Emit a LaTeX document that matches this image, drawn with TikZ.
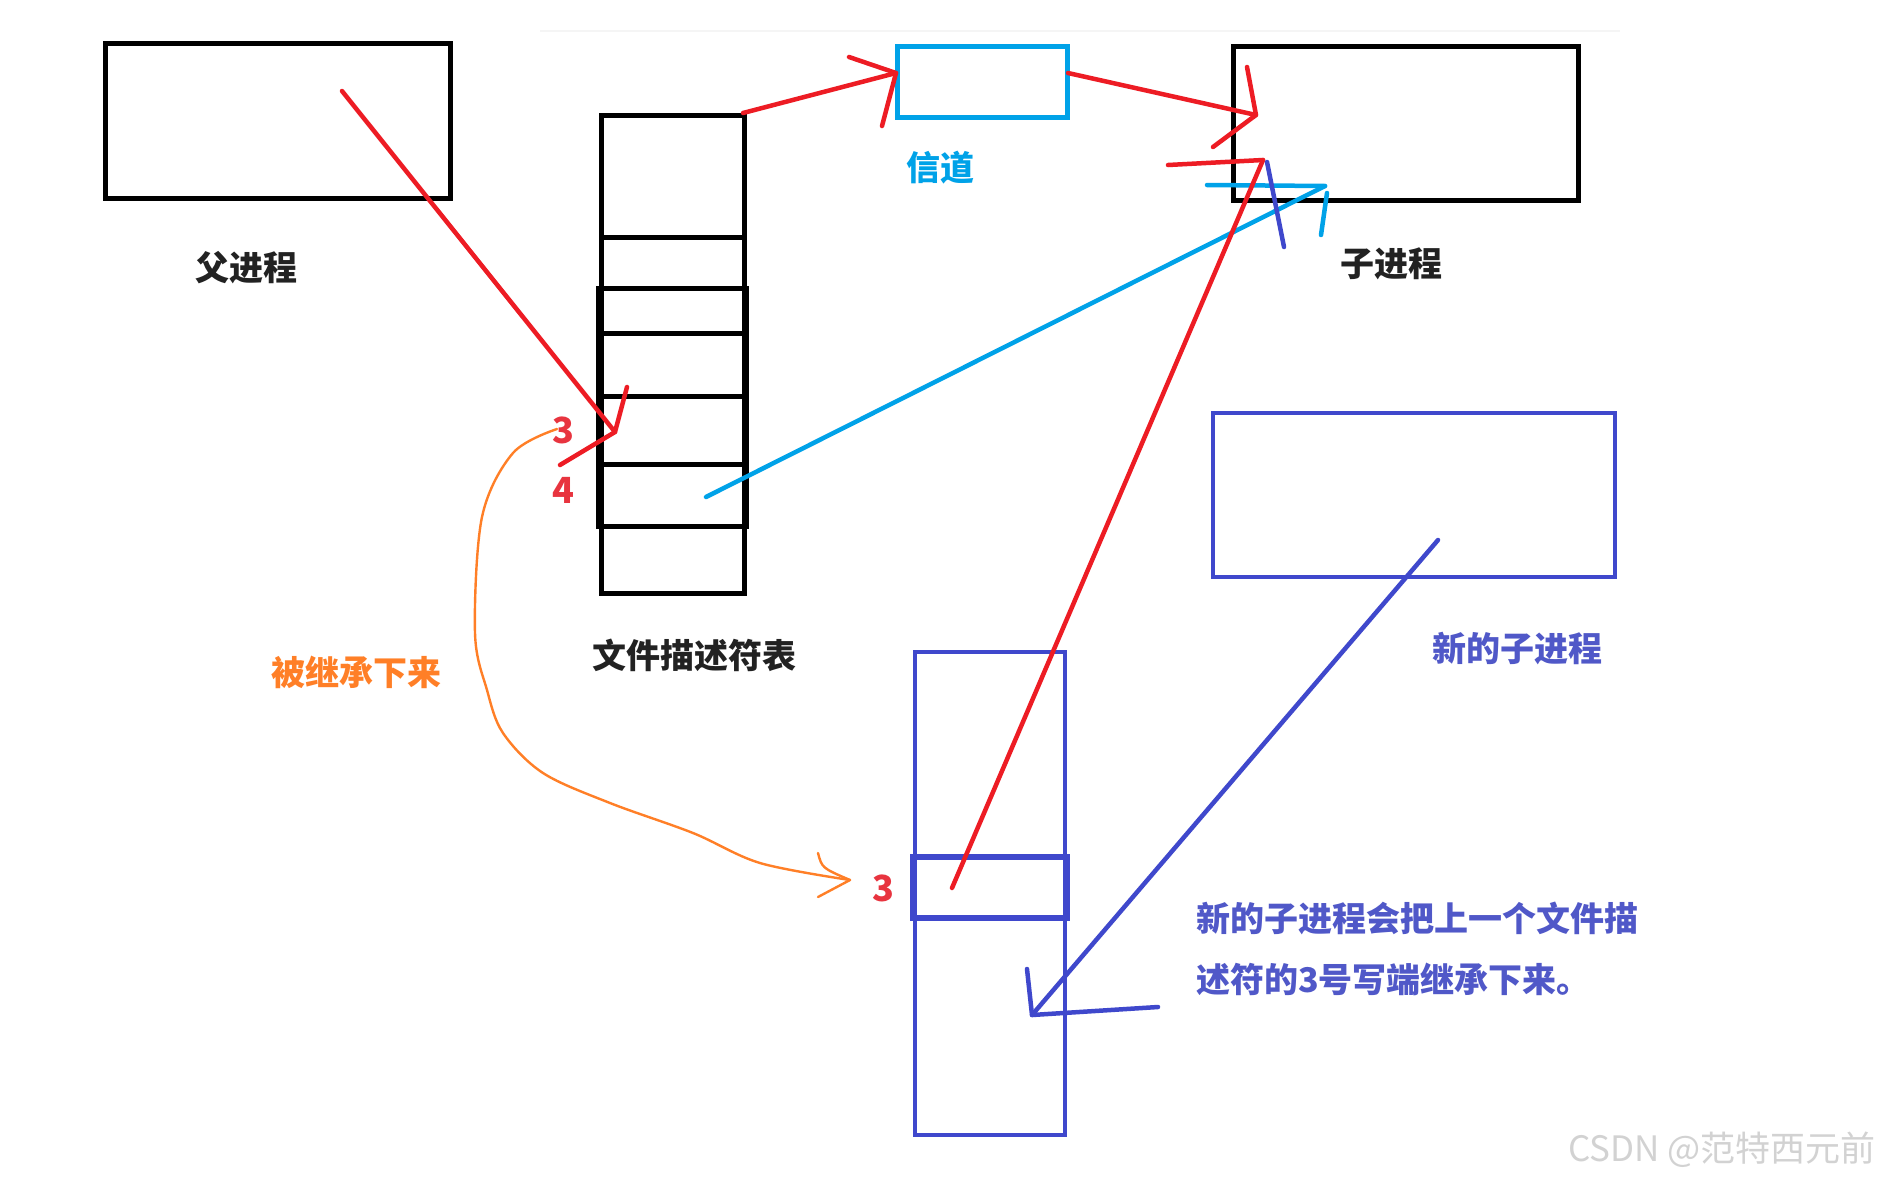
\documentclass[tikz,border=0pt]{standalone}
\usepackage{fontspec}
\newfontfamily\cjk{Noto Sans CJK SC}
\definecolor{pred}{HTML}{ED1C24}
\definecolor{pcyan}{HTML}{00A2E8}
\definecolor{pindigo}{HTML}{3F48CC}
\definecolor{porange}{HTML}{FF7F27}
\definecolor{tred}{HTML}{E8343F}
\definecolor{tindigo}{HTML}{5058C8}
\definecolor{tdark}{HTML}{222222}
\tikzset{
  pen/.style={line width=4.5, line cap=round, line join=round},
  redpen/.style={pen, draw=pred},
  cyanpen/.style={pen, draw=pcyan},
  indigopen/.style={pen, draw=pindigo},
  orangepen/.style={line width=2.4, line cap=round, line join=round, draw=porange},
  boxk/.style={draw=black, line width=5, inner sep=0, rectangle},
  boxc/.style={draw=pcyan, line width=5, inner sep=0, rectangle},
  boxi/.style={draw=pindigo, line width=4.5, inner sep=0, rectangle},
  lbl/.style={font=\cjk\bfseries\fontsize{34}{40}\selectfont, inner sep=0},
  num/.style={font=\cjk\bfseries\fontsize{36}{40}\selectfont, text=tred, inner sep=0},
}
\begin{document}
\begin{tikzpicture}[x=1pt, y=-1pt]
\useasboundingbox (0,0) rectangle (1887,1187);
\fill[white] (0,0) rectangle (1887,1187);
\draw[gray!8, line width=2] (540,31) -- (1620,31);

% boxes
\node[boxk, minimum width=345, minimum height=155] (parent) at (277.5,120.5) {};
\node[boxc, minimum width=170, minimum height=71] (chan) at (982,81.5) {};
\node[boxk, minimum width=345, minimum height=154] (child) at (1405.5,123) {};
\node[boxi, minimum width=402, minimum height=164] (newchild) at (1414,495) {};

% fd table
\node[boxk, minimum width=143, minimum height=478] (fdt) at (672.5,354) {};
\node[boxk, minimum width=148, minimum height=238] (fdmid) at (672.5,407) {};
\foreach \yy in {237,288,333,396,464,526}
  \draw[line width=5] (601,\yy) -- (744,\yy);

% new fd table
\node[boxi, minimum width=150, minimum height=483] (nfdt) at (990,893.5) {};
\node[boxi, line width=5.5, minimum width=154, minimum height=61] (nslot) at (990,887.5) {};

% labels
\node[lbl, text=tdark] (lparent) at (246,268) {父进程};
\node[lbl, text=pcyan] (lchan) at (940,168) {信道};
\node[lbl, text=tdark] (lchild) at (1391,264) {子进程};
\node[lbl, text=tdark] (lfdt) at (694,655) {文件描述符表};
\node[lbl, text=porange] (linh) at (356,672) {被继承下来};
\node[lbl, text=tindigo] (lnew) at (1517,649) {新的子进程};
\node[lbl, text=tindigo, anchor=west] (note1) at (1196,918) {新的子进程会把上一个文件描};
\node[lbl, text=tindigo, anchor=west] (note2) at (1196,979) {述符的3号写端继承下来。};
\node[num] (n3) at (563,430) {3};
\node[num] (n4) at (563,490) {4};
\node[num] (n3b) at (883,888) {3};
\node[font=\cjk\fontsize{35}{40}\selectfont, text=gray!35, inner sep=0] (wm) at (1722,1150) {CSDN @范特西元前};

% coordinates for hand-drawn arrows
\coordinate (p1s) at (342,91);   \coordinate (t1) at (615,432);
\coordinate (b1a) at (627,387);  \coordinate (b1b) at (560,465);
\coordinate (p2s) at (743,113);  \coordinate (t2) at (896,73);
\coordinate (b2a) at (849,57);   \coordinate (b2b) at (882,126);
\coordinate (p3s) at (1068,73);  \coordinate (t3) at (1256,115);
\coordinate (b3a) at (1247,67);  \coordinate (b3b) at (1213,147);
\coordinate (p4s) at (706,497);  \coordinate (t4) at (1325,186);
\coordinate (b4a) at (1207,185); \coordinate (b4c) at (1327,193); \coordinate (b4d) at (1321,235);
\coordinate (p5s) at (952,888);  \coordinate (t5) at (1263,160);
\coordinate (b5a) at (1168,165); \coordinate (b5c) at (1267,162); \coordinate (b5d) at (1284,247);
\coordinate (p6s) at (1438,540); \coordinate (t6) at (1032,1015);
\coordinate (b6a) at (1027,969); \coordinate (b6b) at (1158,1007);
\coordinate (o1) at (557,429);   \coordinate (t7) at (850,880);
\coordinate (b7a) at (818,853);  \coordinate (b7b) at (818,897);

% red parent -> fd 3
\draw[redpen] (p1s) -- (t1);
\draw[redpen] (b1a) -- (t1) -- (b1b);
% red fd -> channel
\draw[redpen] (p2s) -- (t2);
\draw[redpen] (b2a) -- (t2) -- (b2b);
% red channel -> child
\draw[redpen] (p3s) -- (t3);
\draw[redpen] (b3a) -- (t3) -- (b3b);
% cyan fd 4 -> child
\draw[cyanpen] (p4s) -- (t4);
\draw[cyanpen] (b4a) -- (t4);
\draw[cyanpen] (b4c) -- (b4d);
% red new fd 3 -> child
\draw[redpen] (p5s) -- (t5);
\draw[redpen] (b5a) -- (t5);
\draw[indigopen] (b5c) -- (b5d);
% indigo new child -> new fd
\draw[indigopen] (p6s) -- (t6);
\draw[indigopen] (b6a) -- (t6) -- (b6b);
% orange inherited curve
\draw[orangepen] plot[smooth, tension=0.55] coordinates {(557,429) (513,453) (482,517) (475,633) (487,690) (503,733) (543,773) (610,803) (693,833) (760,863) (850,880)};
\draw[orangepen] (b7a) .. controls (822,868) .. (t7) -- (b7b);
\end{tikzpicture}
\end{document}
